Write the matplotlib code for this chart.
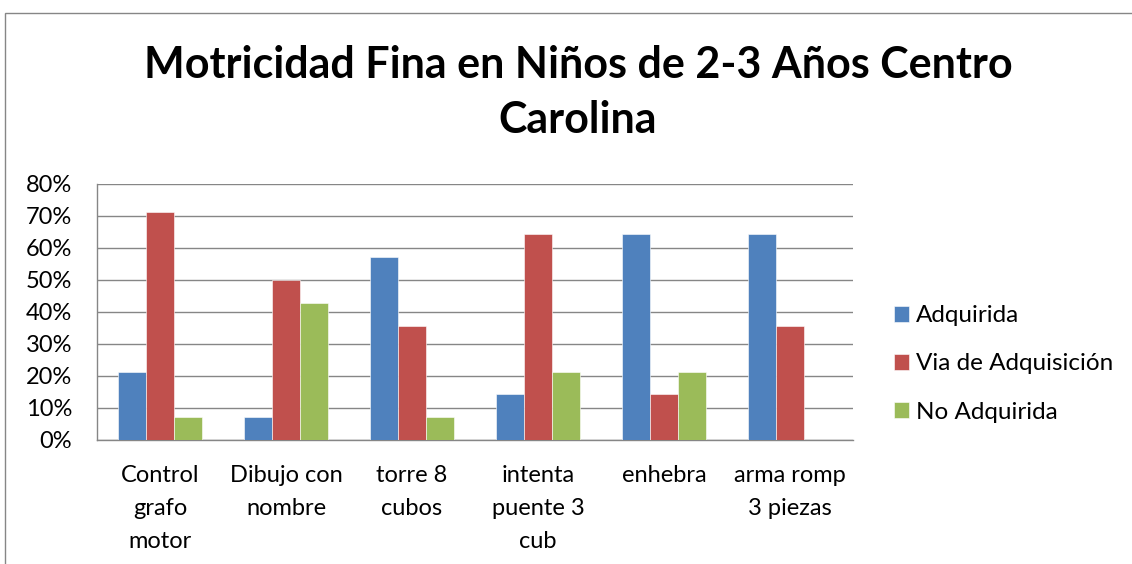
import matplotlib
matplotlib.use("Agg")
import matplotlib.pyplot as plt
import numpy as np
from matplotlib.ticker import PercentFormatter
from matplotlib.patches import Rectangle

categories = ["Control\ngrafo\nmotor", "Dibujo con\nnombre", "torre 8\ncubos",
              "intenta\npuente 3\ncub", "enhebra", "arma romp\n3 piezas"]
adquirida = [0.214, 0.071, 0.571, 0.143, 0.643, 0.643]
via_adquisicion = [0.714, 0.500, 0.357, 0.643, 0.143, 0.357]
no_adquirida = [0.071, 0.429, 0.071, 0.214, 0.214, 0.0]
series_names = ["Adquirida", "Via de Adquisición", "No Adquirida"]
colors = ["#4F81BD", "#C0504D", "#9BBB59"]
title_lines = ["Motricidad Fina en Niños de 2-3 Años Centro", "Carolina"]

plt.rcParams['font.family'] = ['Lato', 'DejaVu Sans']

W, H = 1132, 564
fig = plt.figure(figsize=(W / 100, H / 100), dpi=100)

# chart border
fig.patches.append(Rectangle((4.5 / W, -0.05), 1.2, (H - 12.5) / H + 0.05,
                             transform=fig.transFigure, fill=False,
                             edgecolor="#868686", linewidth=1.0))

ax = fig.add_axes([97 / W, 1 - 440 / H, (853 - 97) / W, (440 - 184) / H])
x = np.arange(len(categories))
bw = 1 / 4.5
for i, (vals, name, c) in enumerate(zip([adquirida, via_adquisicion, no_adquirida],
                                        series_names, colors)):
    ax.bar(x + (i - 1) * bw, vals, width=bw, color=c, label=name,
           edgecolor="white", linewidth=0.4, zorder=3)

fs = 17
ax.set_xlim(-0.5, len(categories) - 0.5)
ax.set_ylim(0, 0.8)
ax.set_yticks(np.arange(0, 0.81, 0.1))
ax.yaxis.set_major_formatter(PercentFormatter(1.0, decimals=0))
ax.grid(axis="y", color="#868686", linewidth=1.0, zorder=0)
ax.set_xticks(x)
ax.set_xticklabels(categories, fontsize=fs, linespacing=1.72)
ax.tick_params(axis="x", length=0, pad=18)
ax.tick_params(axis="y", length=0, pad=18, labelsize=fs)
for s in ["top", "right"]:
    ax.spines[s].set_visible(False)
for s in ["left", "bottom"]:
    ax.spines[s].set_color("#868686")
    ax.spines[s].set_linewidth(1.0)

for line, yb in zip(title_lines, [78, 133]):
    fig.text(578 / W, 1 - yb / H, line, ha="center", va="baseline",
             fontsize=31, fontweight="bold")

leg = fig.legend(loc="center left", bbox_to_anchor=(872 / W, 1 - 364 / H),
                 frameon=False, fontsize=17.5, handlelength=0.62, handleheight=0.62,
                 handletextpad=0.3, labelspacing=1.12)

fig.savefig("out.png", dpi=100, facecolor="white")
